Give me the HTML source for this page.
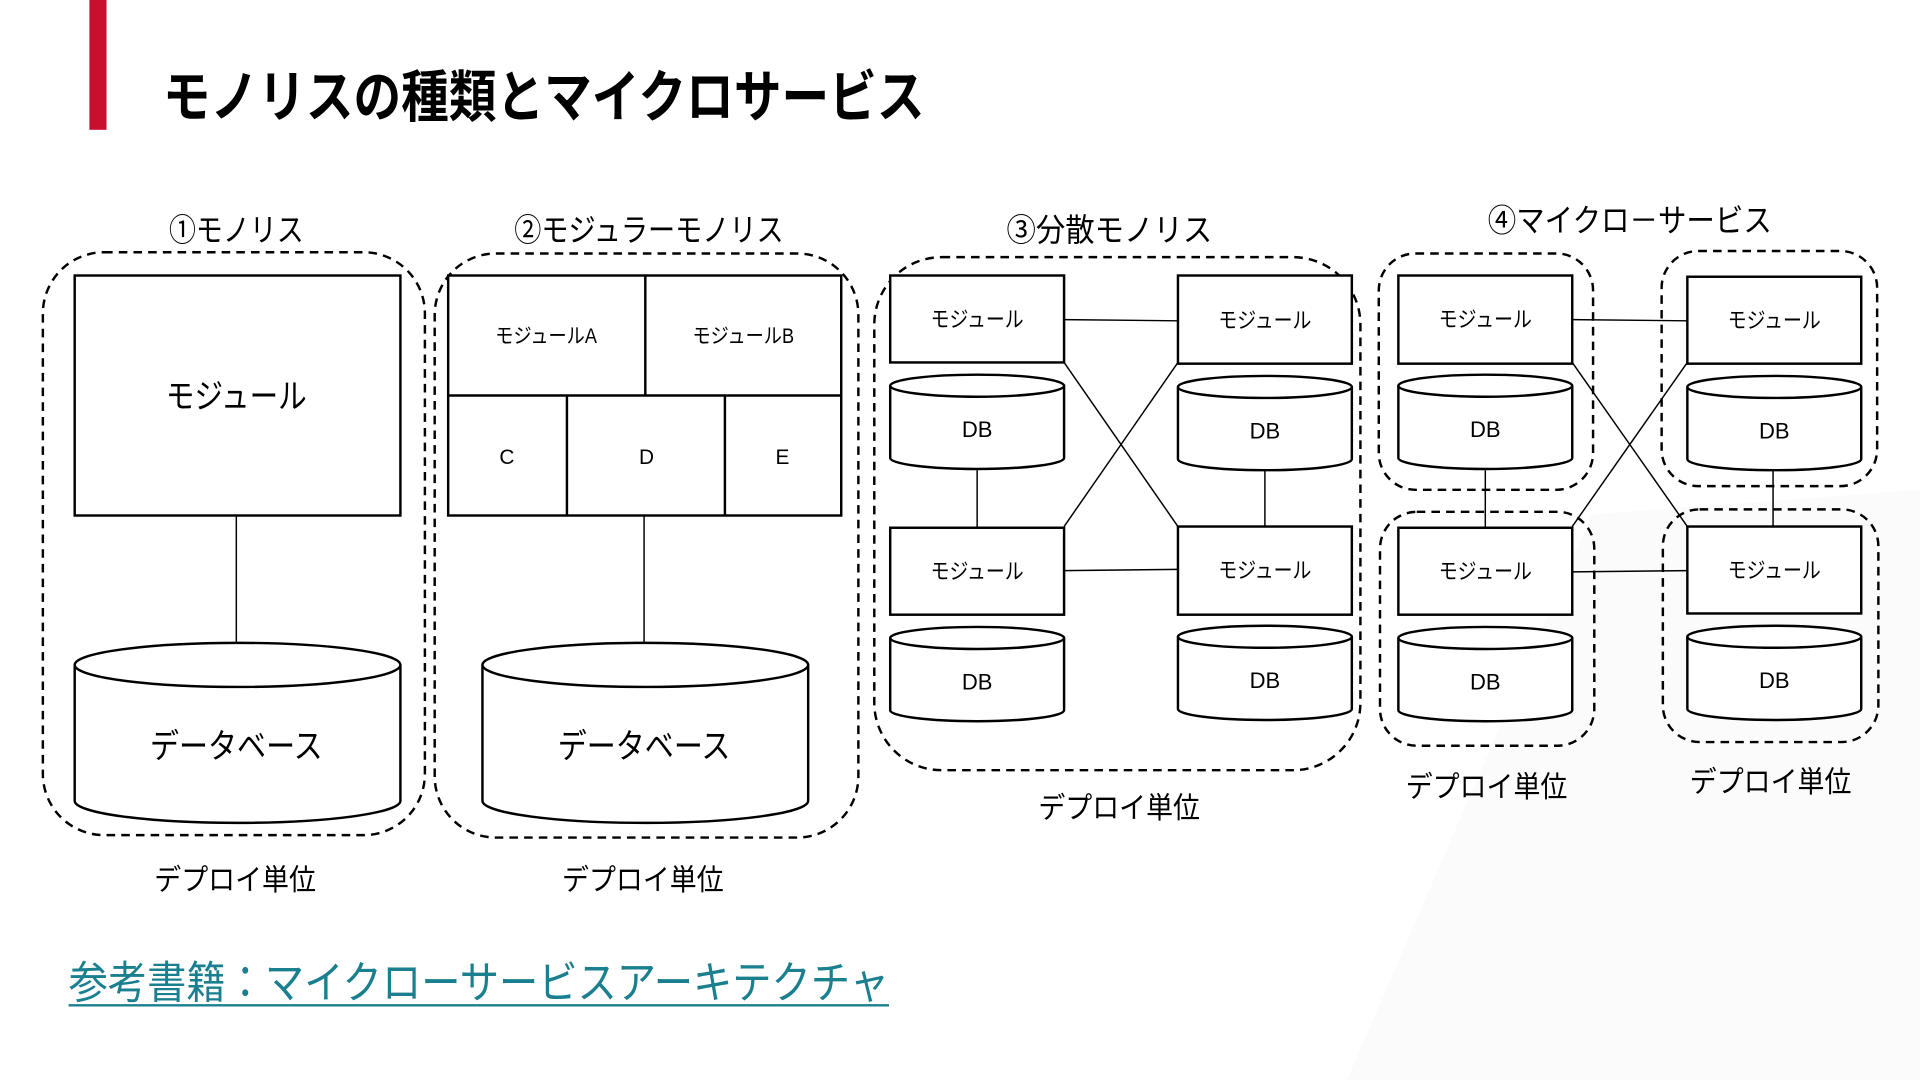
<!DOCTYPE html>
<html><head><meta charset="utf-8"><style>
html,body{margin:0;padding:0;background:#fff;}
svg{display:block;}
text{font-family:"Liberation Sans","Noto Sans CJK JP",sans-serif;fill:#000;}
</style></head><body>
<svg width="1920" height="1080" viewBox="0 0 1568 882" xmlns="http://www.w3.org/2000/svg">
<rect width="1568" height="882" fill="#fff"/>
<polygon points="1100,882 1300,420 1568,400 1568,882" fill="#fbfbfb"/>
<rect x="73" y="0" width="14" height="106" fill="#c8102e"/>
<text x="133" y="95" font-size="46" font-weight="bold" textLength="622" lengthAdjust="spacingAndGlyphs">モノリスの種類とマイクロサービス</text>

<g fill="none" stroke="#000" stroke-width="2" stroke-dasharray="7,5">
<rect x="35" y="206" width="312" height="476" rx="50"/>
<rect x="355" y="207" width="346" height="477" rx="50"/>
<rect x="714" y="210" width="397" height="419" rx="55"/>
<rect x="1126" y="207" width="175" height="193" rx="30"/>
<rect x="1357" y="205" width="176" height="192" rx="30"/>
<rect x="1127" y="418" width="175" height="191" rx="30"/>
<rect x="1358" y="416" width="176" height="190" rx="30"/>
</g>

<g font-size="26" text-anchor="middle" lengthAdjust="spacingAndGlyphs">
<text x="193" y="197" textLength="110" lengthAdjust="spacingAndGlyphs">①モノリス</text>
<text x="530" y="197" textLength="220" lengthAdjust="spacingAndGlyphs">②モジュラーモノリス</text>
<text x="906" y="197" textLength="168" lengthAdjust="spacingAndGlyphs">③分散モノリス</text>
<text x="1331" y="189" textLength="232" lengthAdjust="spacingAndGlyphs">④マイクロ－サービス</text>
</g>
<g font-size="24" text-anchor="middle">
<text x="192" y="727" textLength="132" lengthAdjust="spacingAndGlyphs">デプロイ単位</text>
<text x="525" y="727" textLength="132" lengthAdjust="spacingAndGlyphs">デプロイ単位</text>
<text x="914" y="668" textLength="132" lengthAdjust="spacingAndGlyphs">デプロイ単位</text>
<text x="1214" y="651" textLength="132" lengthAdjust="spacingAndGlyphs">デプロイ単位</text>
<text x="1446" y="647" textLength="132" lengthAdjust="spacingAndGlyphs">デプロイ単位</text>
</g>

<g stroke="#000" stroke-width="1.2" fill="none">
<line x1="193" y1="421" x2="193" y2="525"/>
<line x1="526" y1="421" x2="526" y2="525"/>
<line x1="869" y1="261" x2="962" y2="262"/>
<line x1="869" y1="466" x2="962" y2="465"/>
<line x1="869" y1="296" x2="962" y2="430"/>
<line x1="962" y1="296" x2="869" y2="430"/>
<line x1="798" y1="384" x2="798" y2="431"/>
<line x1="1033" y1="384" x2="1033" y2="430"/>
<line x1="1284" y1="261" x2="1378" y2="262"/>
<line x1="1284" y1="467" x2="1378" y2="466"/>
<line x1="1284" y1="296" x2="1378" y2="430"/>
<line x1="1378" y1="296" x2="1284" y2="430"/>
<line x1="1213" y1="384" x2="1213" y2="431"/>
<line x1="1448" y1="384" x2="1448" y2="430"/>
</g>

<g stroke="#000" stroke-width="2" fill="#fff">
<rect x="61" y="225" width="266" height="196"/>
<rect x="366" y="225" width="321" height="196"/>
<line x1="366" y1="323" x2="687" y2="323"/>
<line x1="527" y1="225" x2="527" y2="323"/>
<line x1="463" y1="323" x2="463" y2="421"/>
<line x1="592" y1="323" x2="592" y2="421"/>
<path d="M61,543 L61,654 A133,18 0 0 0 327,654 L327,543"/>
<ellipse cx="194" cy="543" rx="133" ry="18"/>
<path d="M394,543 L394,654 A133,18 0 0 0 660,654 L660,543"/>
<ellipse cx="527" cy="543" rx="133" ry="18"/>

<rect x="727" y="225" width="142" height="71"/>
<rect x="962" y="225" width="142" height="72"/>
<rect x="727" y="431" width="142" height="71"/>
<rect x="962" y="430" width="142" height="72"/>
<rect x="1142" y="225" width="142" height="72"/>
<rect x="1378" y="226" width="142" height="71"/>
<rect x="1142" y="431" width="142" height="71"/>
<rect x="1378" y="430" width="142" height="71"/>

<path d="M727,315 L727,374 A71,9 0 0 0 869,374 L869,315"/><ellipse cx="798" cy="315" rx="71" ry="9"/>
<path d="M962,316 L962,375 A71,9 0 0 0 1104,375 L1104,316"/><ellipse cx="1033" cy="316" rx="71" ry="9"/>
<path d="M727,521 L727,580 A71,9 0 0 0 869,580 L869,521"/><ellipse cx="798" cy="521" rx="71" ry="9"/>
<path d="M962,520 L962,579 A71,9 0 0 0 1104,579 L1104,520"/><ellipse cx="1033" cy="520" rx="71" ry="9"/>
<path d="M1142,315 L1142,374 A71,9 0 0 0 1284,374 L1284,315"/><ellipse cx="1213" cy="315" rx="71" ry="9"/>
<path d="M1378,316 L1378,375 A71,9 0 0 0 1520,375 L1520,316"/><ellipse cx="1449" cy="316" rx="71" ry="9"/>
<path d="M1142,521 L1142,580 A71,9 0 0 0 1284,580 L1284,521"/><ellipse cx="1213" cy="521" rx="71" ry="9"/>
<path d="M1378,520 L1378,579 A71,9 0 0 0 1520,579 L1520,520"/><ellipse cx="1449" cy="520" rx="71" ry="9"/>
</g>

<g text-anchor="middle">
<text x="193" y="333" font-size="28" textLength="115" lengthAdjust="spacingAndGlyphs">モジュール</text>
<text x="193" y="619" font-size="28" textLength="141" lengthAdjust="spacingAndGlyphs">データベース</text>
<text x="526" y="619" font-size="28" textLength="141" lengthAdjust="spacingAndGlyphs">データベース</text>
<text x="446" y="280" font-size="17" textLength="83" lengthAdjust="spacingAndGlyphs">モジュールA</text>
<text x="607" y="280" font-size="17" textLength="83" lengthAdjust="spacingAndGlyphs">モジュールB</text>
<text x="414" y="379" font-size="17">C</text>
<text x="528" y="379" font-size="17">D</text>
<text x="639" y="379" font-size="17">E</text>
<g font-size="18">
<text x="798" y="267" textLength="76" lengthAdjust="spacingAndGlyphs">モジュール</text>
<text x="1033" y="268" textLength="76" lengthAdjust="spacingAndGlyphs">モジュール</text>
<text x="798" y="473" textLength="76" lengthAdjust="spacingAndGlyphs">モジュール</text>
<text x="1033" y="472" textLength="76" lengthAdjust="spacingAndGlyphs">モジュール</text>
<text x="1213" y="267" textLength="76" lengthAdjust="spacingAndGlyphs">モジュール</text>
<text x="1449" y="268" textLength="76" lengthAdjust="spacingAndGlyphs">モジュール</text>
<text x="1213" y="473" textLength="76" lengthAdjust="spacingAndGlyphs">モジュール</text>
<text x="1449" y="472" textLength="76" lengthAdjust="spacingAndGlyphs">モジュール</text>
<text x="798" y="357">DB</text>
<text x="1033" y="358">DB</text>
<text x="798" y="563">DB</text>
<text x="1033" y="562">DB</text>
<text x="1213" y="357">DB</text>
<text x="1449" y="358">DB</text>
<text x="1213" y="563">DB</text>
<text x="1449" y="562">DB</text>
</g>
</g>

<text x="56" y="815" font-size="36" style="fill:#1a7f8e" textLength="670" lengthAdjust="spacingAndGlyphs">参考書籍：マイクローサービスアーキテクチャ</text>
<line x1="56" y1="821" x2="726" y2="821" stroke="#1a7f8e" stroke-width="2"/>
</svg>
</body></html>
